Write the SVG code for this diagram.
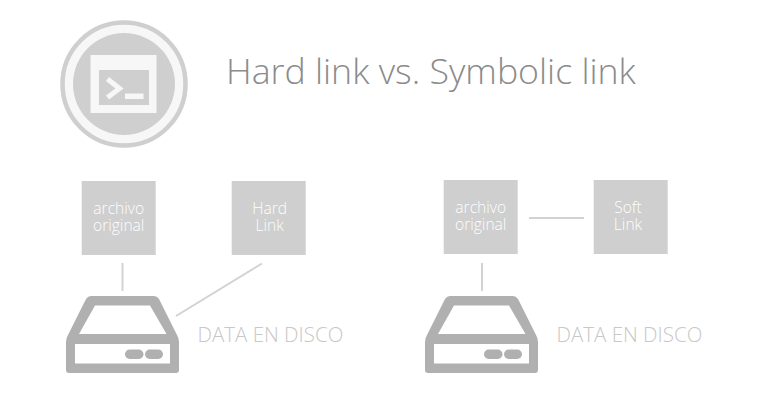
<svg xmlns="http://www.w3.org/2000/svg" width="760" height="400" viewBox="0 0 760 400">
<style>
text{font-family:"Open Sans","Noto Sans",sans-serif;font-weight:300;opacity:.99}
.box{fill:#cfcfcf}
.lbl{fill:#ffffff;font-size:15.600px;text-anchor:middle}
.cap{fill:#c8c8c8;font-size:20.500px}
.conn{stroke:#d2d2d2;stroke-width:2;fill:none}
.drv{fill:#b0b0b0;fill-rule:evenodd}
.pill{fill:#b0b0b0}
</style>
<defs>
<g id="drive">
<path class="drv" d="M91 296H154Q157 296 159 299L177 335Q179 338 179 342V370Q179 373 176 373H69Q66 373 66 370V342Q66 338 68 335L86 299Q88 296 91 296ZM95 305.500L79 334H166.500L150 305.500ZM75 344V363.500H170V344Z"/>
<rect class="pill" x="125" y="349.500" width="18.500" height="9.500" rx="4.700"/>
<rect class="pill" x="145" y="349.500" width="18" height="9.500" rx="4.700"/>
</g>
</defs>
<rect width="760" height="400" fill="#ffffff"/>
<g id="terminal-icon">
<circle cx="124" cy="84" r="61.500" fill="#f7f7f7" stroke="#cfcfcf" stroke-width="4.500"/>
<circle cx="124" cy="84" r="51" fill="#cfcfcf"/>
<rect x="90.500" y="55" width="66" height="58" fill="#f7f7f7"/>
<rect x="99" y="70" width="50" height="35" fill="#cfcfcf"/>
<path d="M107.500 79L119.500 88.500L107.500 97.500" fill="none" stroke="#f7f7f7" stroke-width="5"/>
<rect x="125" y="93.500" width="18.500" height="5.500" fill="#f7f7f7"/>
</g>
<text id="title" x="226" y="84" fill="#8a8a8a" style="font-size:35.700px">Hard link vs. Symbolic link</text>
<g id="connectors">
<path class="conn" d="M122.500 263V291"/>
<path class="conn" d="M262 263.500L176 316"/>
<path class="conn" d="M482 263V291"/>
<path class="conn" d="M529 218H584"/>
</g>
<g id="original-left">
<rect class="box" x="81.700" y="181" width="74" height="74"/>
<text class="lbl"><tspan x="118.700" y="214">archivo</tspan><tspan x="118.700" y="231">original</tspan></text>
</g>
<g id="hard-link">
<rect class="box" x="231.700" y="181" width="74" height="74"/>
<text class="lbl"><tspan x="269.700" y="214">Hard</tspan><tspan x="269.700" y="231">Link</tspan></text>
</g>
<g id="original-right">
<rect class="box" x="443.700" y="180" width="74" height="74"/>
<text class="lbl"><tspan x="480.700" y="213">archivo</tspan><tspan x="480.700" y="230">original</tspan></text>
</g>
<g id="soft-link">
<rect class="box" x="593.700" y="180" width="74" height="74"/>
<text class="lbl"><tspan x="628" y="213">Soft</tspan><tspan x="628" y="230">Link</tspan></text>
</g>
<g id="disk-left">
<use href="#drive"/>
<text class="cap" x="197.500" y="342">DATA EN DISCO</text>
</g>
<g id="disk-right">
<use href="#drive" x="359"/>
<text class="cap" x="556.500" y="342">DATA EN DISCO</text>
</g>
</svg>
